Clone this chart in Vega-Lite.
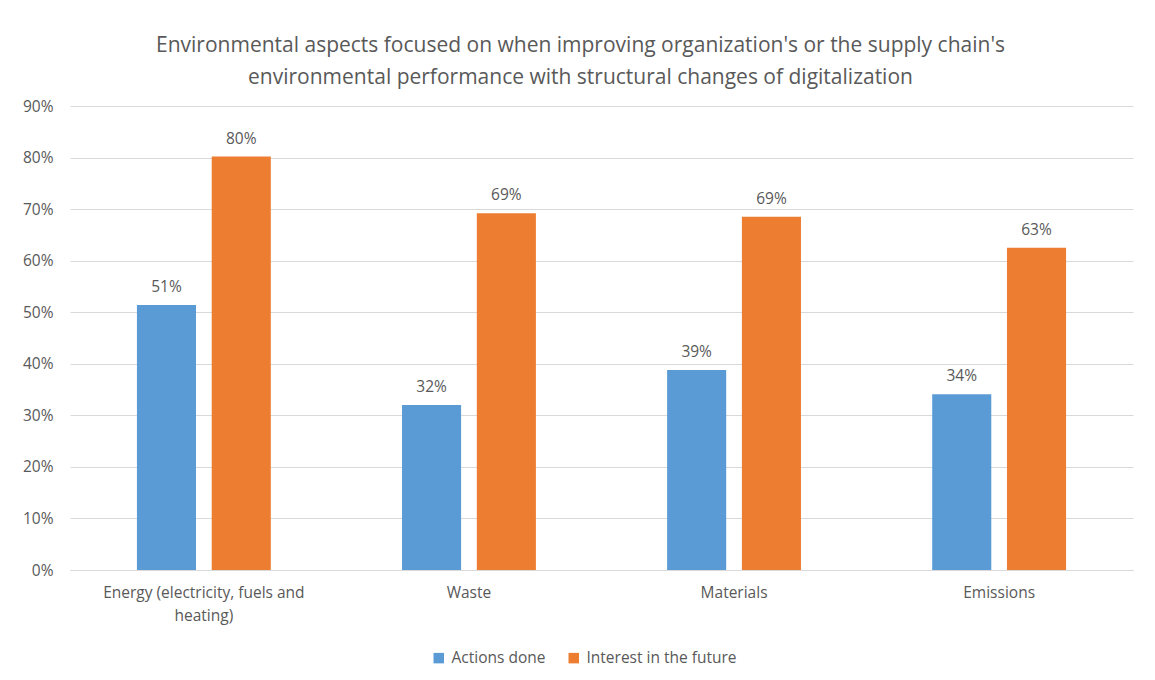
{
  "$schema": "https://vega.github.io/schema/vega-lite/v6.json",
  "width": 1063,
  "height": 464,
  "autosize": "none",
  "padding": {"left": 70, "top": 106, "right": 22, "bottom": 110},
  "background": "white",
  "title": {
    "text": ["Environmental aspects focused on when improving organization's or the supply chain's", "environmental performance with structural changes of digitalization"],
    "font": "Open Sans",
    "fontSize": 21,
    "fontWeight": "normal",
    "color": "#595959",
    "anchor": "middle",
    "dx": -21,
    "offset": 11,
    "lineHeight": 32
  },
  "data": {
    "values": [
      {"category": "Energy (electricity, fuels and heating)", "series": "Actions done", "value": 0.514},
      {"category": "Energy (electricity, fuels and heating)", "series": "Interest in the future", "value": 0.802},
      {"category": "Waste", "series": "Actions done", "value": 0.32},
      {"category": "Waste", "series": "Interest in the future", "value": 0.692},
      {"category": "Materials", "series": "Actions done", "value": 0.388},
      {"category": "Materials", "series": "Interest in the future", "value": 0.685},
      {"category": "Emissions", "series": "Actions done", "value": 0.341},
      {"category": "Emissions", "series": "Interest in the future", "value": 0.625}
    ]
  },
  "encoding": {
    "x": {
      "field": "category",
      "type": "nominal",
      "sort": null,
      "scale": {"paddingInner": 0.495, "paddingOuter": 0.2525},
      "axis": {
        "title": null,
        "labelAngle": 0,
        "labelFont": "Open Sans",
        "labelFontSize": 15.5,
        "labelColor": "#595959",
        "labelPadding": 15.5,
        "labelLineHeight": 22.5,
        "labelLimit": 0,
        "ticks": false,
        "domainColor": "#D9D9D9",
        "labelExpr": "datum.label == 'Energy (electricity, fuels and heating)' ? ['Energy (electricity, fuels and', 'heating)'] : datum.label"
      }
    },
    "xOffset": {
      "field": "series",
      "type": "nominal",
      "scale": {"paddingInner": 0.21, "paddingOuter": 0}
    },
    "y": {
      "field": "value",
      "type": "quantitative",
      "scale": {"domain": [0, 0.9]},
      "axis": {
        "title": null,
        "format": ".0%",
        "values": [0, 0.1, 0.2, 0.3, 0.4, 0.5, 0.6, 0.7, 0.8, 0.9],
        "labelFont": "Open Sans",
        "labelFontSize": 15.5,
        "labelColor": "#595959",
        "labelPadding": 17,
        "labelOverlap": false,
        "ticks": false,
        "domain": false,
        "gridColor": "#D9D9D9"
      }
    }
  },
  "layer": [
    {
      "mark": {"type": "bar"},
      "encoding": {
        "color": {
          "field": "series",
          "type": "nominal",
          "scale": {"domain": ["Actions done", "Interest in the future"], "range": ["#5B9BD5", "#ED7D31"]},
          "legend": {
            "title": null,
            "orient": "none",
            "direction": "horizontal",
            "legendX": 361,
            "legendY": 544,
            "symbolType": "square",
            "symbolSize": 110,
            "symbolStrokeWidth": 0,
            "labelFont": "Open Sans",
            "labelFontSize": 15.5,
            "labelColor": "#595959",
            "labelOffset": 5,
            "columnPadding": 20
          }
        }
      }
    },
    {
      "mark": {"type": "text", "baseline": "bottom", "dy": -10, "font": "Open Sans", "fontSize": 15.5, "color": "#595959"},
      "encoding": {
        "text": {"field": "value", "type": "quantitative", "format": ".0%"}
      }
    }
  ],
  "config": {
    "view": {"stroke": null}
  }
}
